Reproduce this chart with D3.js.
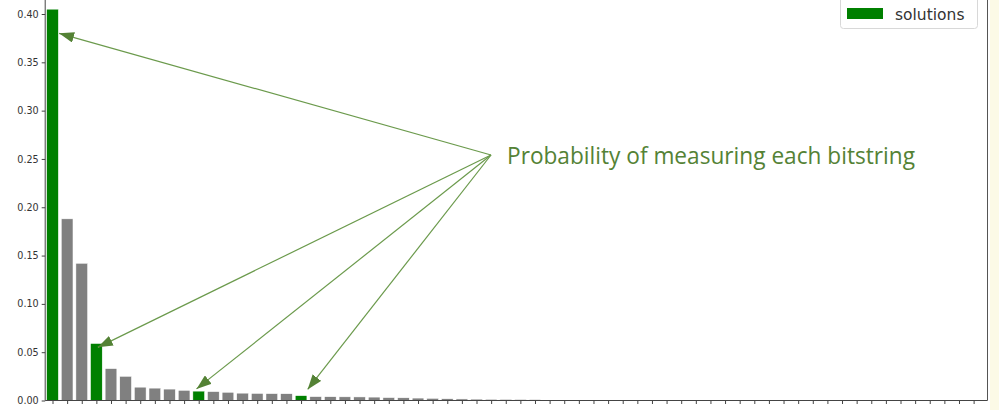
<!DOCTYPE html>
<html>
<head>
<meta charset="utf-8">
<script src="https://cdn.jsdelivr.net/npm/d3@7"></script>
<style>
  html, body { margin: 0; padding: 0; background: #ffffff; }
  svg { display: block; }
</style>
</head>
<body>
<svg id="chart" width="999" height="410"></svg>
<script>
// ---- data ----
const probabilities = [
  0.405, 0.188, 0.142, 0.059, 0.033, 0.025, 0.0138, 0.0128,
  0.0118, 0.0105, 0.0097, 0.0092, 0.0085, 0.0076, 0.0073, 0.0071,
  0.0070, 0.0050, 0.0040, 0.0039, 0.0038, 0.0037, 0.0035, 0.0030,
  0.0028, 0.0025, 0.0022, 0.0018, 0.0016, 0.0014, 0.0012, 0.0011,
  0.0010, 0.0009, 0.0003, 0.0003, 0.0003, 0.0003, 0.0002, 0.0002,
  0.0002, 0.0002, 0.0002, 0.0002, 0.0001, 0.0001, 0.0001, 0.0001,
  0.0001, 0.0001, 0.0001, 0.0001, 0.0001, 0.0001, 0.0001, 0.0001,
  0.0001, 0.0001, 0.0001, 0.0001, 0.0001, 0.0001, 0.0001, 0.0001
];
const solutionIndices = [0, 3, 10, 17];
const yTicks = [0.00, 0.05, 0.10, 0.15, 0.20, 0.25, 0.30, 0.35, 0.40];
const legendLabel = "solutions";
const annotationText = "Probability of measuring each bitstring";

// ---- setup ----
const svg = d3.select("#chart");
const W = 999, H = 410;
const left = 45.2, right = 987.5, bottom = 400.5;

const x = d3.scaleLinear().domain([-0.5, 63.95]).range([left, right]);
const y = d3.scaleLinear().domain([0, 0.40]).range([bottom, 14]);

// notebook margin strip on the right
svg.append("rect").attr("x", 990).attr("y", 0).attr("width", W - 990).attr("height", H)
  .attr("fill", "#fcfae6");

// bars
const bars = probabilities.map((v, i) => ({ i, v, sol: solutionIndices.includes(i) }));
svg.append("g").selectAll("rect").data(bars).join("rect")
  .attr("x", d => x(d.i - 0.4))
  .attr("width", d => x(d.i + 0.4) - x(d.i - 0.4))
  .attr("y", d => y(d.v))
  .attr("height", d => y(0) - y(d.v))
  .attr("fill", d => d.sol ? "#008000" : "#808080")
  .attr("stroke", "#ffffff")
  .attr("stroke-width", 0.5);

// y axis
const yAxis = d3.axisLeft(y).tickValues(yTicks).tickFormat(d3.format(".2f")).tickSize(3.5).tickPadding(3);
const gy = svg.append("g").attr("transform", `translate(${left},0)`).call(yAxis);
gy.select(".domain").remove();
gy.selectAll("text").attr("font-family", "DejaVu Sans").attr("font-size", 9.6).attr("fill", "#333");
gy.selectAll("line").attr("stroke", "#444");
svg.append("line").attr("x1", left).attr("x2", left).attr("y1", 0).attr("y2", bottom)
  .attr("stroke", "#444").attr("stroke-width", 1);

// x axis
const xAxis = d3.axisBottom(x).tickValues(d3.range(probabilities.length)).tickFormat("").tickSize(3.5);
const gx = svg.append("g").attr("transform", `translate(0,${bottom})`).call(xAxis);
gx.select(".domain").remove();
gx.selectAll("line").attr("stroke", "#444");
svg.append("line").attr("x1", left).attr("x2", right).attr("y1", bottom).attr("y2", bottom)
  .attr("stroke", "#444").attr("stroke-width", 1);
// right spine
svg.append("line").attr("x1", right).attr("x2", right).attr("y1", 0).attr("y2", bottom)
  .attr("stroke", "#555").attr("stroke-width", 1);

// legend
const lg = svg.append("g");
lg.append("rect").attr("x", 840.5).attr("y", -5).attr("width", 137).attr("height", 33.5)
  .attr("rx", 3).attr("fill", "#ffffff").attr("stroke", "#d8d8d8").attr("stroke-width", 1);
lg.append("rect").attr("x", 847).attr("y", 8).attr("width", 36).attr("height", 11).attr("fill", "#008000");
lg.append("text").attr("x", 895).attr("y", 19.5).attr("font-family", "DejaVu Sans")
  .attr("font-size", 15.5).attr("fill", "#333").text(legendLabel);

// annotation
const green = "#548235";
const defs = svg.append("defs");
defs.append("marker").attr("id", "ah").attr("viewBox", "0 0 14 10")
  .attr("refX", 14).attr("refY", 5).attr("markerWidth", 15).attr("markerHeight", 10.7)
  .attr("markerUnits", "userSpaceOnUse").attr("orient", "auto")
  .append("path").attr("d", "M0,0 L14,5 L0,10 Z").attr("fill", green);

const origin = [491, 155];
const targets = [
  [bars[0].i + 0.45, 0.38],
  [bars[3].i + 0.1, 0.055],
  [bars[10].i - 0.15, 0.0120],
  [bars[17].i + 0.45, 0.0115]
];
svg.append("g").selectAll("line").data(targets).join("line")
  .attr("x1", origin[0]).attr("y1", origin[1])
  .attr("x2", d => x(d[0])).attr("y2", d => y(d[1]))
  .attr("stroke", "#6b9a4c").attr("stroke-width", 1.2)
  .attr("marker-end", "url(#ah)");

svg.append("text").attr("x", 507).attr("y", 164)
  .attr("font-family", "Open Sans").attr("font-size", 24).attr("fill", green)
  .attr("textLength", 408).attr("lengthAdjust", "spacingAndGlyphs")
  .text(annotationText);
</script>
</body>
</html>
